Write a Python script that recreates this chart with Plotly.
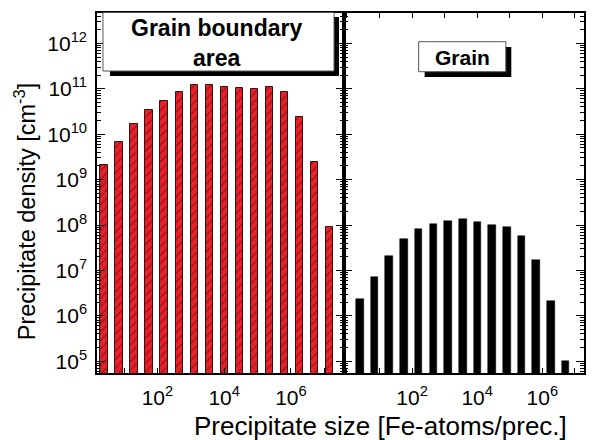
import plotly.graph_objects as go

# bin centres, log10 of precipitate size (Fe atoms / precipitate)
log_size = [0.40, 0.85, 1.30, 1.75, 2.20, 2.66, 3.11, 3.56,
            4.01, 4.46, 4.91, 5.36, 5.81, 6.26, 6.71, 7.16]

# precipitate density [cm^-3]
gb_density = [2.1e9, 6.6e9, 1.7e10, 3.4e10, 5.5e10, 8.6e10, 1.2e11, 1.22e11,
              1.12e11, 1.05e11, 1.0e11, 1.12e11, 8.3e10, 2.4e10, 2.5e9, 8.9e7]
grain_density = [2.3e6, 7.3e6, 2.1e7, 5.0e7, 8.2e7, 1.03e8, 1.24e8, 1.37e8,
                 1.16e8, 1.0e8, 9.1e7, 5.6e7, 1.7e7, 2.1e6, 1.0e5]

x_tick_vals = [0, 1, 2, 3, 4, 5, 6, 7]
x_tick_exp = ["", "", "2", "", "4", "", "6", ""]
y_tick_vals = [1e5, 1e6, 1e7, 1e8, 1e9, 1e10, 1e11, 1e12]
y_tick_exp = ["5", "6", "7", "8", "9", "10", "11", "12"]


def pow_label(e):
    if not e:
        return ""
    return "10<sup>%s</sup>" % e


x_tick_text = [pow_label(e) for e in x_tick_exp]
y_tick_text = [pow_label(e) for e in y_tick_exp]

FONT = "Liberation Sans, Arial, sans-serif"
W, H = 592, 440
L, R, T, B = 97, 586, 13, 373


def px(x):
    return (x - L) / (R - L)


def py(y):
    return (B - y) / (B - T)


fig = go.Figure()
fig.add_trace(go.Bar(
    x=log_size, y=gb_density, width=0.22, xaxis="x", yaxis="y",
    marker=dict(color="#e8202a", line=dict(color="#3a1010", width=1),
                pattern=dict(shape="/", bgcolor="#e8202a", fgcolor="#5a0c0c",
                             fgopacity=0.7, size=6, solidity=0.18)),
    showlegend=False))
fig.add_trace(go.Bar(
    x=log_size[:len(grain_density)], y=grain_density, width=0.235,
    xaxis="x2", yaxis="y2",
    marker=dict(color="black", line=dict(color="black", width=0.5)),
    showlegend=False))

split = px(345)
axis_common = dict(showline=True, linecolor="black", linewidth=1.5,
                   ticks="inside", tickcolor="black", showgrid=False,
                   zeroline=False, mirror="ticks")
xaxis_common = dict(axis_common, tickvals=x_tick_vals, ticktext=x_tick_text,
                    ticklen=5, tickfont=dict(size=21), ticklabelstandoff=5)
yaxis_common = dict(axis_common, type="log", range=[4.74, 12.67],
                    tickvals=y_tick_vals, ticktext=y_tick_text,
                    ticklen=8, tickwidth=1.2, tickfont=dict(size=21),
                    minor=dict(ticks="inside", ticklen=4, dtick="D1",
                               tickcolor="black", showgrid=False))

fig.update_layout(
    width=W, height=H,
    margin=dict(l=L, r=W - R, t=T, b=H - B, pad=0),
    paper_bgcolor="white", plot_bgcolor="white",
    font=dict(family=FONT, size=20, color="black"),
    bargap=0,
    xaxis=dict(xaxis_common, domain=[0, split], range=[0.19, 7.59], anchor="y"),
    xaxis2=dict(xaxis_common, domain=[split, 1], range=[-0.09, 7.28], anchor="y2"),
    yaxis=dict(yaxis_common, domain=[0, 1], anchor="x", ticklabelstandoff=4),
    yaxis2=dict(yaxis_common, domain=[0, 1], anchor="x2", showticklabels=False),
)

shapes = [
    # grain boundary box shadow + box
    dict(type="rect", xref="paper", yref="paper",
         x0=px(110), x1=px(340), y0=py(76), y1=py(17),
         fillcolor="black", line=dict(width=0)),
    dict(type="rect", xref="paper", yref="paper",
         x0=px(103), x1=px(335), y0=py(71), y1=py(12.5),
         fillcolor="white", line=dict(color="#555", width=1)),
    # grain box shadow + box
    dict(type="rect", xref="paper", yref="paper",
         x0=px(426), x1=px(513), y0=py(77), y1=py(47),
         fillcolor="black", line=dict(width=0)),
    dict(type="rect", xref="paper", yref="paper",
         x0=px(420), x1=px(507.5), y0=py(71.7), y1=py(41.7),
         fillcolor="white", line=dict(color="#555", width=1)),
]
fig.update_layout(shapes=shapes)

ann = dict(xref="paper", yref="paper", showarrow=False,
           xanchor="center", yanchor="middle")
fig.add_annotation(ann, x=px(217), y=py(43),
                   text="<b>Grain boundary<br>area</b>",
                   font=dict(size=23, family=FONT), align="center")
fig.add_annotation(ann, x=px(464), y=py(57), text="<b>Grain</b>",
                   font=dict(size=21, family=FONT))
fig.add_annotation(ann, x=px(25), y=py(211),
                   text="Precipitate density [cm<sup>-3</sup>]", textangle=-90,
                   font=dict(size=23.5, family=FONT))
fig.add_annotation(ann, x=px(382), y=py(426),
                   text="Precipitate size [Fe-atoms/prec.]",
                   font=dict(size=26, family=FONT))

fig.write_html("out.html")
